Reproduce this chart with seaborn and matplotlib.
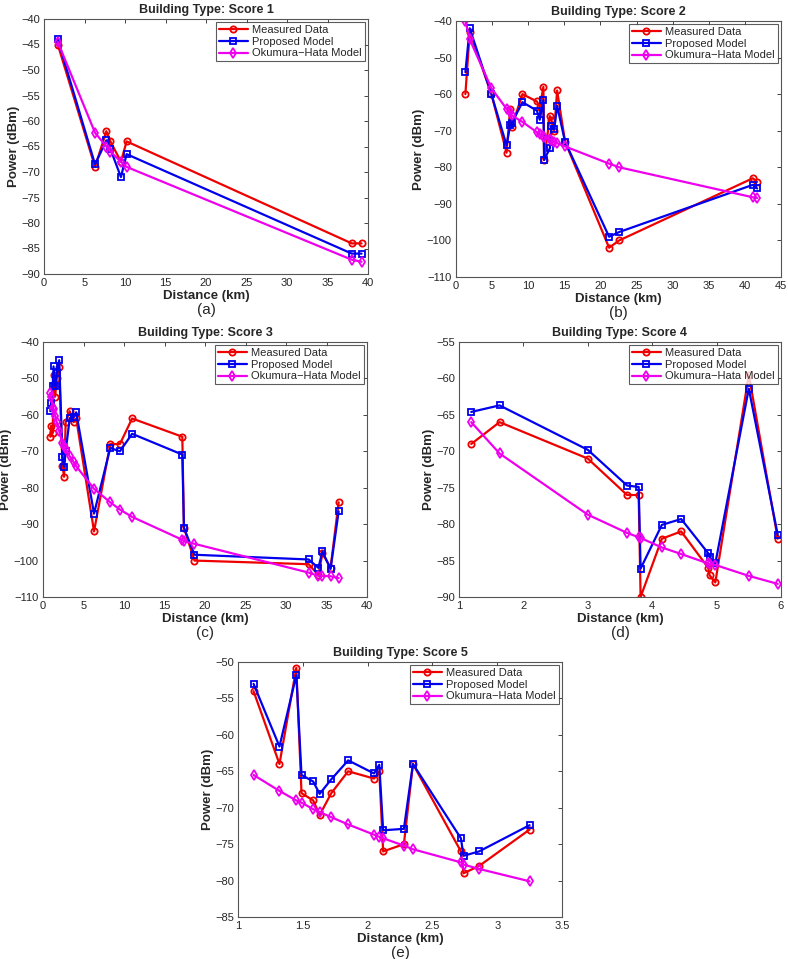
import numpy as np
import pandas as pd
import matplotlib
matplotlib.use("Agg")
import matplotlib.pyplot as plt
import seaborn as sns
from matplotlib.ticker import FuncFormatter

# Score 1
d1 = [1.7, 6.3, 7.7, 8.2, 9.5, 10.2, 38.0, 39.2]
meas1 = [-45, -69, -62, -64, -68, -64, -84, -84]
prop1 = [-44, -68.5, -63.8, -65.5, -71, -66.5, -86, -86]
hata1 = [-44.5, -62.3, -65, -66, -68, -69, -87.2, -87.6]

# Score 2
d2 = [1.3, 1.9, 4.9, 7.0, 7.5, 7.7, 9.2, 11.2, 11.6, 12.1, 12.2, 13.0, 13.2, 13.6, 14.0, 15.1, 21.2, 22.6, 41.1, 41.7]
meas2 = [-60, -43, -60, -76, -64, -69, -60, -62, -63.5, -58, -78, -66, -67, -70, -59, -73, -102, -100, -83, -84]
prop2 = [-54, -42, -60, -74, -68.5, -68, -62.2, -64.5, -67, -61.6, -78, -74.8, -68.7, -69.6, -63.2, -73, -99, -97.7, -84.8, -85.8]
hata2 = [-40, -45, -58.4, -64, -65, -65.8, -67.6, -70.4, -71, -71.5, -71.7, -72.3, -72.6, -73, -73.4, -74.3, -79, -80, -88.2, -88.4]

# Score 3
d3 = [0.9, 1.0, 1.2, 1.3, 1.5, 1.7, 2.0, 2.4, 2.6, 2.8, 3.3, 3.8, 4.1, 6.3, 8.3, 9.5, 11.0, 17.2, 17.4, 18.7, 32.8, 34.0, 34.5, 35.5, 36.5]
meas3 = [-66, -63, -65, -49, -55, -50, -47, -74, -77, -62, -59, -62, -61, -92, -68, -68, -61, -66, -91, -100, -101, -104, -98, -102, -84]
prop3 = [-59, -56.7, -52, -46.7, -52.2, -48.5, -45, -71.6, -74.2, -70, -60.9, -60.6, -59.3, -87.1, -69.1, -70, -65.2, -70.9, -91, -98.4, -99.7, -102, -97.5, -102.3, -86.5]
hata3 = [-54, -55, -58, -58.4, -60.4, -62, -64.5, -67.7, -68.5, -69.5, -71.4, -73, -74.1, -80.3, -84, -86, -88, -94.3, -94.7, -95.4, -103.3, -104.2, -104.2, -104.3, -104.8]

# Score 4
d4 = [1.19, 1.63, 3.0, 3.61, 3.79, 3.82, 4.15, 4.45, 4.87, 4.89, 4.98, 5.5, 5.95]
meas4 = [-69, -66, -71, -76, -76, -90, -82, -81, -86, -87, -88, -59.5, -82]
prop4 = [-64.6, -63.7, -69.8, -74.7, -74.9, -86.1, -80.1, -79.3, -84, -84.5, -85.4, -61.4, -81.5]
hata4 = [-66, -70.3, -78.7, -81.2, -81.8, -81.9, -83.2, -84.1, -85.4, -85.5, -85.6, -87.1, -88.2]

# Score 5
d5 = [1.12, 1.32, 1.45, 1.49, 1.58, 1.63, 1.72, 1.85, 2.05, 2.09, 2.12, 2.28, 2.35, 2.72, 2.74, 2.86, 3.25]
meas5 = [-54, -64, -50.8, -68, -69, -71, -68, -65, -66, -65, -76, -75, -64, -76, -79, -78, -73]
prop5 = [-53, -61.6, -51.8, -65.5, -66.4, -68.1, -66.1, -63.5, -65.3, -64.1, -73.1, -72.9, -64, -74.2, -76.6, -76, -72.4]
hata5 = [-65.5, -67.7, -69, -69.3, -70.2, -70.6, -71.3, -72.3, -73.7, -74, -74.2, -75.2, -75.7, -77.5, -77.8, -78.4, -80.1]

series_names = ["Measured Data", "Proposed Model", "Okumura\u2212Hata Model"]
colors = ["#ee0000", "#0000ee", "#ee00ee"]
markers = ["o", "s", "d"]

sns.set_style("white")
plt.rcParams["font.family"] = ["Liberation Sans", "DejaVu Sans"]

W, H = 788, 959
fig = plt.figure(figsize=(W / 100, H / 100), dpi=100)

panels = [
    # (left, right, top, bottom) in pixels, data, limits, ticks, caption
    ((44, 368, 19, 274), d1, meas1, prop1, hata1, (0, 40), np.arange(0, 41, 5), (-90, -40), np.arange(-90, -39, 5), "(a)", 1),
    ((456, 781, 21, 277), d2, meas2, prop2, hata2, (0, 45), np.arange(0, 46, 5), (-110, -40), np.arange(-110, -39, 10), "(b)", 2),
    ((43, 367, 342, 597), d3, meas3, prop3, hata3, (0, 40), np.arange(0, 41, 5), (-110, -40), np.arange(-110, -39, 10), "(c)", 3),
    ((459, 781, 342, 597), d4, meas4, prop4, hata4, (1, 6), np.arange(1, 7, 1), (-90, -55), np.arange(-90, -54, 5), "(d)", 4),
    ((238, 562, 662, 917), d5, meas5, prop5, hata5, (1, 3.5), np.arange(1, 3.51, 0.5), (-85, -50), np.arange(-85, -49, 5), "(e)", 5),
]

fmt = FuncFormatter(lambda v, p: f"{v:g}".replace("-", "\u2212"))

for (l, r, t, b), d, m, pm, hm, xl, xt, yl, yt, cap, score in panels:
    ax = fig.add_axes([l / W, 1 - b / H, (r - l) / W, (b - t) / H])
    for vals, name, c, mk in zip([m, pm, hm], series_names, colors, markers):
        df = pd.DataFrame({"Distance": d, "Power": vals})
        sns.lineplot(data=df, x="Distance", y="Power", ax=ax, sort=False, estimator=None,
                     color=c, lw=1.6, marker=mk, markersize=4.5 if mk != "d" else 5.5,
                     markerfacecolor="none", markeredgecolor=c, markeredgewidth=1.3,
                     label=name)
    ax.set_xlim(*xl)
    ax.set_ylim(*yl)
    ax.set_xticks(xt)
    ax.set_yticks(yt)
    ax.xaxis.set_major_formatter(fmt)
    ax.yaxis.set_major_formatter(fmt)
    ax.tick_params(direction="in", length=3, width=0.6, top=True, right=True,
                   labelsize=8, colors="#262626", pad=3)
    for sp in ax.spines.values():
        sp.set_color("#555555")
        sp.set_linewidth(0.8)
    ax.set_title(f"Building Type: Score {score}", fontsize=9, fontweight="bold", pad=4)
    ax.set_xlabel("")
    ax.set_ylabel("Power (dBm)", fontsize=9.5, fontweight="bold", labelpad=1)
    leg = ax.legend(loc="upper right", fontsize=8, frameon=True, fancybox=False,
                    handlelength=2.6, borderpad=0.25, labelspacing=0.15, handletextpad=0.4,
                    borderaxespad=0.3)
    leg.get_frame().set_edgecolor("#333333")
    leg.get_frame().set_linewidth(0.8)
    cx = (l + r) / 2 / W
    fig.text(cx, 1 - (b + 22) / H, "Distance (km)", ha="center", va="center",
             fontsize=9.5, fontweight="bold")
    fig.text(cx, 1 - (b + 36) / H, cap, ha="center", va="center", fontsize=11)

fig.savefig("out.png", dpi=100)
